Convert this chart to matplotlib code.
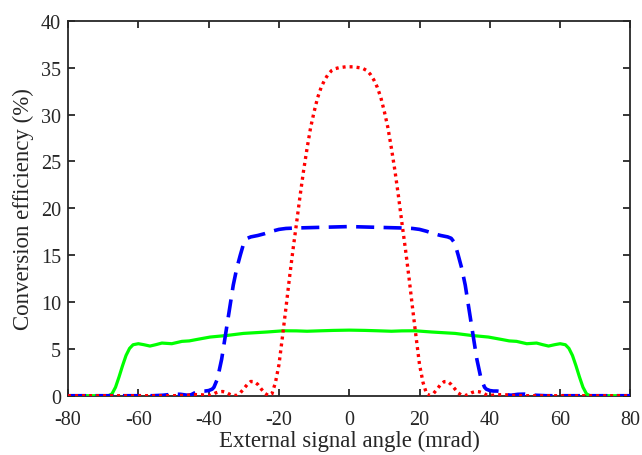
import matplotlib
matplotlib.use("Agg")
import matplotlib.pyplot as plt
import numpy as np

plt.rcParams['font.family'] = ['Liberation Serif', 'DejaVu Serif']
plt.rcParams['mathtext.fontset'] = 'stix'

# Half-profiles (angle <= 0, mrad); each curve is symmetric about 0
green_x = [-80, -68.5, -67.5, -66.5, -65.5, -64.5, -63.5, -62.5, -61.5, -60, -58.5,
           -56.7, -55, -53.3, -50.5, -47.6, -45.5, -43.4, -39.6, -34.8, -30.1,
           -23.4, -18.7, -15, -12, -8, -4.5, 0]
green_y = [0, 0, 0.2, 0.9, 2.0, 3.2, 4.3, 5.05, 5.44, 5.55, 5.45,
           5.3, 5.45, 5.62, 5.55, 5.8, 5.85, 6.0, 6.26, 6.43, 6.65,
           6.8, 6.93, 6.92, 6.88, 6.93, 6.97, 7.0]

blue_x = [-80, -56, -53, -50, -48, -46, -45, -44, -43, -42, -41, -40, -39, -38.5,
          -37.5, -36.3, -35, -34, -33, -32, -31, -30, -29, -28, -26, -24, -22,
          -20, -18, -15, -10, -5, 0]
blue_y = [0, 0, 0.05, 0.17, 0.15, 0.05, 0.1, 0.3, 0.45, 0.5, 0.5, 0.55, 0.7, 0.9,
          1.8, 3.9, 7.0, 9.4, 11.8, 13.6, 15.0, 16.3, 16.8, 16.95, 17.1, 17.3, 17.55,
          17.75, 17.85, 17.9, 17.95, 18.0, 18.05]

red_x = [-80, -50, -46, -44, -42, -40, -39, -38, -37, -36, -35, -34, -33, -32, -31,
         -30, -29, -28, -27, -26, -25, -24, -23, -22, -21, -20, -19, -18, -17, -16,
         -15, -14, -13, -12, -11, -10, -9, -8, -7, -6, -5, -4, -3, -2, -1, 0]
red_y = [0, 0, 0.05, 0.12, 0.1, 0.02, 0.1, 0.3, 0.42, 0.45, 0.35, 0.15, 0.02, 0.05, 0.3,
         0.75, 1.2, 1.52, 1.5, 1.2, 0.7, 0.25, 0.02, 0.2, 1.4, 3.3, 6.3, 9.4, 12.6, 15.6,
         18.4, 21.3, 24.0, 26.4, 28.6, 30.3, 31.8, 32.9, 33.7, 34.3, 34.7, 34.9, 35.0, 35.05, 35.1, 35.1]

x_ticks = [-80, -60, -40, -20, 0, 20, 40, 60, 80]
y_ticks = [0, 5, 10, 15, 20, 25, 30, 35, 40]


def mirror(xs, ys):
    xs = np.asarray(xs, float)
    ys = np.asarray(ys, float)
    return (np.concatenate([xs, -xs[-2::-1]]),
            np.concatenate([ys, ys[-2::-1]]))


fig = plt.figure(figsize=(6.42, 4.56), dpi=100)
ax = fig.add_axes([0.106, 0.130, 0.876, 0.822])

gx, gy = mirror(green_x, green_y)
bx, by = mirror(blue_x, blue_y)
rx, ry = mirror(red_x, red_y)

ax.plot(gx, gy, color='#00ff00', lw=2.3, solid_capstyle='butt', zorder=3)
ax.plot(bx, by, color='#0000ff', lw=2.6, linestyle=(0, (5.0, 2.6)), zorder=4)
ax.plot(rx, ry, color='#ff0000', lw=2.4, linestyle=(0, (0.9, 1.2)),
        dash_capstyle='butt', zorder=5)

ax.set_xlim(-80, 80)
ax.set_ylim(0, 40)
ax.set_xticks(x_ticks)
ax.set_yticks(y_ticks)
ax.set_xticklabels([str(v) for v in x_ticks])
ax.set_yticklabels([str(v) for v in y_ticks])

for s in ax.spines.values():
    s.set_linewidth(1.3)
    s.set_color('#262626')
ax.tick_params(direction='in', length=5, width=1.3, color='#262626',
               top=True, right=True, labelsize=14.5, labelcolor='#262626')
ax.tick_params(axis='x', pad=10)
ax.tick_params(axis='y', pad=5)

ax.set_xlabel('External signal angle (mrad)', fontsize=16.5, color='#262626', labelpad=1)
ax.set_ylabel('Conversion efficiency (%)', fontsize=16.5, color='#262626', labelpad=5)

fig.savefig('out.png', dpi=100)
